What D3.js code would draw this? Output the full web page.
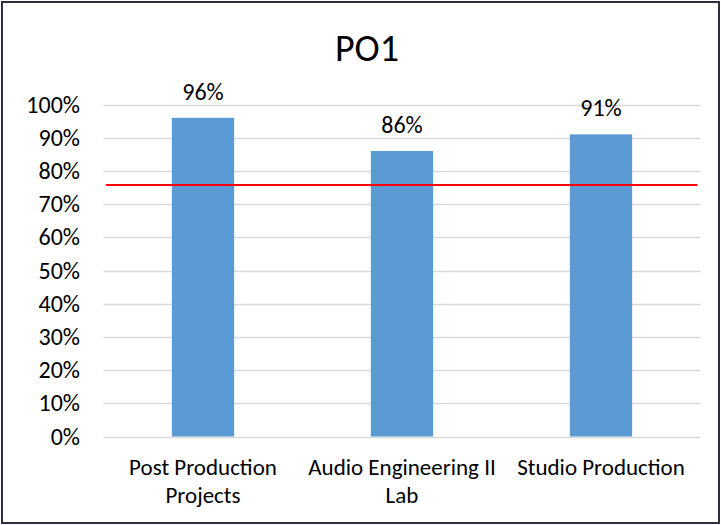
<!DOCTYPE html>
<html>
<head>
<meta charset="utf-8">
<script src="https://cdn.jsdelivr.net/npm/d3@7"></script>
<style>
  html, body { margin: 0; padding: 0; background: #fff; }
  svg { display: block; }
  text { font-family: Calibri, Carlito, Lato, "Open Sans", sans-serif; fill: #000; }
</style>
</head>
<body>
<script>
const title = "PO1";
const categories = [["Post Production", "Projects"], ["Audio Engineering II", "Lab"], ["Studio Production"]];
const values = [0.96, 0.86, 0.91];
const valueLabels = ["96%", "86%", "91%"];
const target = 0.7575;
const yTicks = [0, 0.1, 0.2, 0.3, 0.4, 0.5, 0.6, 0.7, 0.8, 0.9, 1.0];

const W = 721, H = 525;
const svg = d3.select("body").append("svg").attr("width", W).attr("height", H);

svg.append("rect").attr("x", 2).attr("y", 2).attr("width", W - 4).attr("height", H - 4)
  .attr("fill", "#fff").attr("stroke", "#2e2e3c").attr("stroke-width", 2);

const plot = { left: 103.5, right: 700.5, top: 104.5, bottom: 436.5 };

const x = d3.scaleBand().domain(d3.range(categories.length))
  .range([plot.left, plot.right]).paddingInner(0.687).paddingOuter(0.3435);
const y = d3.scaleLinear().domain([0, 1]).range([plot.bottom, plot.top]);

svg.append("text").attr("x", 367).attr("y", 61).attr("text-anchor", "middle")
  .style("font-size", "38px").text(title);

// gridlines
svg.append("g").selectAll("line").data(yTicks).join("line")
  .attr("x1", plot.left).attr("x2", plot.right)
  .attr("y1", d => Math.round(y(d)) + 0.5).attr("y2", d => Math.round(y(d)) + 0.5)
  .attr("stroke", "#d9d9d9").attr("stroke-width", 1.5);

// y axis labels
const yAxis = d3.axisLeft(y).tickValues(yTicks).tickFormat(d3.format(".0%")).tickSize(0).tickPadding(0);
const gy = svg.append("g").attr("transform", `translate(${80},0)`).call(yAxis);
gy.select(".domain").remove();
gy.selectAll("text").style("font-size", "24px").attr("font-family", null).attr("fill", "#000");

// bars
svg.append("g").selectAll("rect").data(values).join("rect")
  .attr("x", (d, i) => x(i)).attr("width", x.bandwidth())
  .attr("y", d => y(d)).attr("height", d => y(0) - y(d))
  .attr("fill", "#5b9bd5");

// value labels
svg.append("g").selectAll("text").data(values).join("text")
  .attr("x", (d, i) => x(i) + x.bandwidth() / 2).attr("y", d => y(d) - 18)
  .attr("text-anchor", "middle").style("font-size", "24px")
  .text((d, i) => valueLabels[i]);

// target line
svg.append("line").attr("x1", plot.left + 2.5).attr("x2", plot.right - 3)
  .attr("y1", y(target)).attr("y2", y(target))
  .attr("stroke", "#ff0000").attr("stroke-width", 2);

// category labels
const cg = svg.append("g").selectAll("text").data(categories).join("text")
  .attr("x", (d, i) => x(i) + x.bandwidth() / 2).attr("y", 475)
  .attr("text-anchor", "middle").style("font-size", "23px");
cg.selectAll("tspan").data(d => d).join("tspan")
  .attr("x", function() { return d3.select(this.parentNode).attr("x"); })
  .attr("dy", (d, i) => i === 0 ? 0 : 28).text(d => d);
</script>
</body>
</html>
